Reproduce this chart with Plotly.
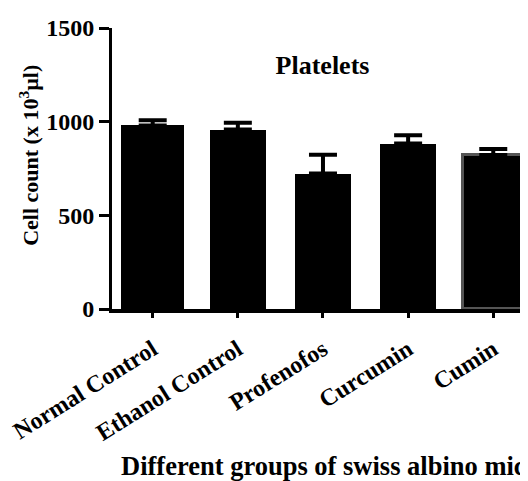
import plotly.graph_objects as go

# ---- data ----
groups = ["Normal Control", "Ethanol Control", "Profenofos", "Curcumin", "Cumin"]
platelets = [980, 958, 723, 883, 822]
sem = [27, 36, 100, 45, 32]
y_ticks = [0, 500, 1000, 1500]

# ---- styles ----
bar_widths = [0.735, 0.665, 0.665, 0.665, 0.70]
bar_line_colors = ["black", "black", "black", "black", "#555555"]
bar_line_widths = [0, 0, 0, 0, 3]
FONT = "Liberation Serif"

# the page body has an 8px margin, so the figure is laid out in page coords minus 8
OFF = 8
W, H = 528 - OFF, 481 - OFF
L, R, T = 112 - OFF, 0, 28 - OFF
B = H - (309.4 - OFF)
PW, PH = W - L - R, H - T - B


def px(x):
    return (x - OFF - L) / PW


def py(y):
    return 1 - (y - OFF - T) / PH


fig = go.Figure()
fig.add_trace(go.Bar(
    x=list(range(len(groups))),
    y=platelets,
    width=bar_widths,
    marker=dict(color="black", line=dict(color=bar_line_colors, width=bar_line_widths)),
    error_y=dict(type="data", array=sem, arrayminus=[0] * len(sem), symmetric=False,
                 color="black", thickness=4, width=14),
    showlegend=False,
))

fig.update_layout(
    width=W, height=H,
    margin=dict(l=L, r=R, t=T, b=B, pad=0),
    paper_bgcolor="white", plot_bgcolor="white",
    font=dict(family=FONT, color="black", size=23, weight="bold"),
    bargap=0,
    title=dict(text="<b>Platelets</b>", x=(322.5 - OFF) / W, y=1 - (65 - OFF) / H,
               xref="container", yref="container",
               xanchor="center", yanchor="middle", font=dict(family=FONT, size=26, color="black")),
    xaxis=dict(
        range=[-0.478, 4.408],
        tickmode="array", tickvals=list(range(len(groups))), ticktext=groups,
        tickangle=-32,
        ticks="outside", ticklen=5, tickwidth=3, tickcolor="black",
        showline=True, linecolor="black", linewidth=4,
        showgrid=False, zeroline=False,
        tickfont=dict(family=FONT, size=24, color="black", weight="bold"),
        ticklabelstandoff=8,
        ticklabeloverflow="allow",
    ),
    yaxis=dict(
        range=[0, 1500],
        tickmode="array", tickvals=y_ticks, ticktext=[str(v) for v in y_ticks],
        ticks="outside", ticklen=10, tickwidth=3, tickcolor="black",
        showline=True, linecolor="black", linewidth=3,
        showgrid=False, zeroline=False,
        tickfont=dict(family=FONT, size=24, color="black", weight="bold"),
    ),
    annotations=[
        dict(text="<b>Cell count (x 10<sup>3</sup>µl)</b>", textangle=-90,
             x=px(29), y=py(156),
             xref="paper", yref="paper", xanchor="center", yanchor="middle",
             showarrow=False, font=dict(family=FONT, size=22, color="black")),
        dict(text="<b>Different groups of swiss albino mice</b>",
             x=px(119), y=py(467),
             xref="paper", yref="paper", xanchor="left", yanchor="middle",
             showarrow=False, font=dict(family=FONT, size=26.5, color="black")),
    ],
)

fig.write_html("out.html")
